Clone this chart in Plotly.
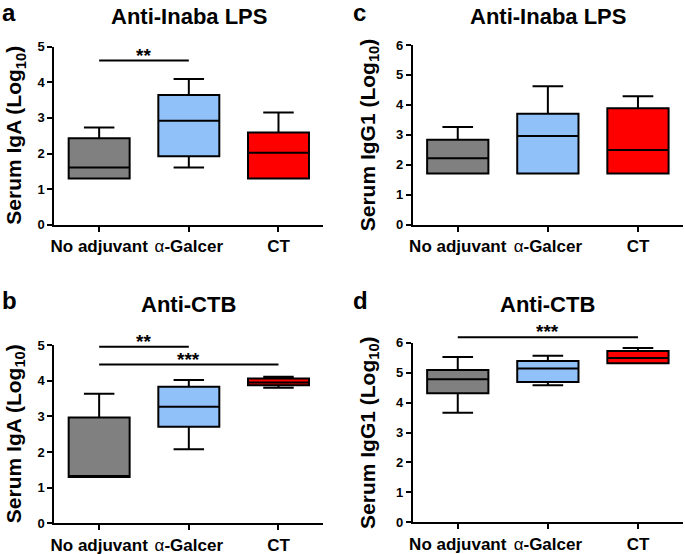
import plotly.graph_objects as go

# groups on every panel
categories = ["No adjuvant", "α-Galcer", "CT"]
tick_text = ["No adjuvant", "<span style='font-weight:normal'>α</span>-Galcer", "CT"]
box_colors = ["#808080", "#91c1f9", "#ff0000"]

# panel a: serum IgA, anti-Inaba LPS (log10)
a_low = [1.30, 1.61, 1.30]
a_q1 = [1.30, 1.92, 1.30]
a_med = [1.61, 2.92, 2.02]
a_q3 = [2.43, 3.64, 2.59]
a_high = [2.73, 4.09, 3.15]

# panel b: serum IgA, anti-CTB
b_low = [1.30, 2.08, 3.80]
b_q1 = [1.30, 2.71, 3.87]
b_med = [1.30, 3.27, 3.95]
b_q3 = [2.97, 3.83, 4.06]
b_high = [3.63, 4.02, 4.11]

# panel c: serum IgG1, anti-Inaba LPS
c_low = [1.71, 1.71, 1.71]
c_q1 = [1.71, 1.71, 1.71]
c_med = [2.22, 2.96, 2.49]
c_q3 = [2.84, 3.70, 3.89]
c_high = [3.26, 4.62, 4.29]

# panel d: serum IgG1, anti-CTB
d_low = [3.66, 4.58, 5.31]
d_q1 = [4.31, 4.69, 5.31]
d_med = [4.78, 5.14, 5.49]
d_q3 = [5.09, 5.39, 5.72]
d_high = [5.52, 5.56, 5.82]

# significance bars: (from group, to group, height, stars)
a_sig = [(0, 1, 4.61, "**")]
b_sig = [(0, 1, 4.95, "**"), (0, 2, 4.45, "***")]
c_sig = []
d_sig = [(0, 2, 6.18, "***")]

FONT = "Liberation Sans, Arial, sans-serif"

panels = [
    # letter, title, y label, ymax, stats, sig, axis suffix, x domain, y domain
    ("a", "Anti-Inaba LPS", "Serum IgA (Log<sub>10</sub>)", 5,
     (a_low, a_q1, a_med, a_q3, a_high), a_sig, "", [0.0793, 0.4720], [0.5944, 0.9157]),
    ("b", "Anti-CTB", "Serum IgA (Log<sub>10</sub>)", 5,
     (b_low, b_q1, b_med, b_q3, b_high), b_sig, "2", [0.0793, 0.4720], [0.0554, 0.3773]),
    ("c", "Anti-Inaba LPS", "Serum IgG1 (Log<sub>10</sub>)", 6,
     (c_low, c_q1, c_med, c_q3, c_high), c_sig, "3", [0.6025, 0.9971], [0.5944, 0.9188]),
    ("d", "Anti-CTB", "Serum IgG1 (Log<sub>10</sub>)", 6,
     (d_low, d_q1, d_med, d_q3, d_high), d_sig, "4", [0.6025, 0.9971], [0.0572, 0.3814]),
]

fig = go.Figure()
annotations = []
shapes = []
layout = {}

for letter, title, ylabel, ymax, stats, sig, sfx, xdom, ydom in panels:
    low, q1, med, q3, high = stats
    xa, ya = "x" + sfx, "y" + sfx
    top_row = ydom[1] > 0.5
    left_col = xdom[0] < 0.5
    for i, cat in enumerate(categories):
        fig.add_trace(go.Box(
            x=[cat], q1=[q1[i]], median=[med[i]], q3=[q3[i]],
            lowerfence=[low[i]], upperfence=[high[i]],
            fillcolor=box_colors[i], line=dict(color="black", width=2),
            width=0.68, whiskerwidth=0.5, boxpoints=False,
            showlegend=False, xaxis=xa, yaxis=ya,
        ))

    layout["xaxis" + sfx] = dict(
        domain=xdom, anchor=ya, type="category", automargin=False,
        categoryorder="array", categoryarray=categories,
        range=[-0.5, 2.5], tickvals=categories, ticktext=tick_text,
        showline=True, linewidth=2, linecolor="black",
        ticks="outside", ticklen=5, tickwidth=2, tickcolor="black",
        showgrid=False, zeroline=False,
        tickfont=dict(family=FONT, size=17, color="black", weight="bold"),
    )
    layout["yaxis" + sfx] = dict(
        domain=ydom, anchor=xa, range=[0, ymax], dtick=1, automargin=False,
        showline=True, linewidth=2, linecolor="black",
        ticks="outside", ticklen=5, tickwidth=2, tickcolor="black",
        showgrid=False, zeroline=False,
        tickfont=dict(family=FONT, size=13, color="black", weight="bold"),
    )

    # y axis label, flush with the left edge of the panel
    annotations.append(dict(
        text=ylabel, textangle=-90, xref="paper", yref=ya + " domain",
        x=0.0 if left_col else 0.516, y=0.5, xanchor="left", yanchor="middle",
        showarrow=False,
        font=dict(family=FONT, size=21, color="black", weight="bold"),
    ))
    # panel title centred over the axis
    annotations.append(dict(
        text=title, xref=xa + " domain", yref="paper", x=0.5,
        y=0.971 if top_row else 0.451, yanchor="middle", showarrow=False,
        font=dict(family=FONT, size=22, color="black", weight="bold"),
    ))
    # panel letter
    annotations.append(dict(
        text=letter, xref="paper", yref="paper",
        x=0.0 if left_col else 0.513, y=1.005 if top_row else 0.485,
        xanchor="left", yanchor="top", showarrow=False,
        font=dict(family=FONT, size=24, color="black", weight="bold"),
    ))

    for g0, g1, h, stars in sig:
        shapes.append(dict(
            type="line", xref=xa, yref=ya + " domain",
            x0=categories[g0], x1=categories[g1], y0=h / ymax, y1=h / ymax,
            line=dict(color="black", width=2),
        ))
        annotations.append(dict(
            text=stars, xref=xa, yref=ya + " domain",
            x=(g0 + g1) / 2, y=h / ymax, yanchor="bottom", yshift=-7,
            showarrow=False,
            font=dict(family=FONT, size=19, color="black", weight="bold"),
        ))

fig.update_layout(
    template="none",
    width=685, height=554,
    margin=dict(l=0, r=0, t=0, b=0),
    paper_bgcolor="white", plot_bgcolor="white",
    font=dict(family=FONT, color="black"),
    annotations=annotations, shapes=shapes,
    **layout,
)

# the page's default body margin would push the figure 8px off the window
fig.write_html(
    "out.html",
    config={"displayModeBar": False},
    post_script="document.body.style.margin = '0px';",
)
